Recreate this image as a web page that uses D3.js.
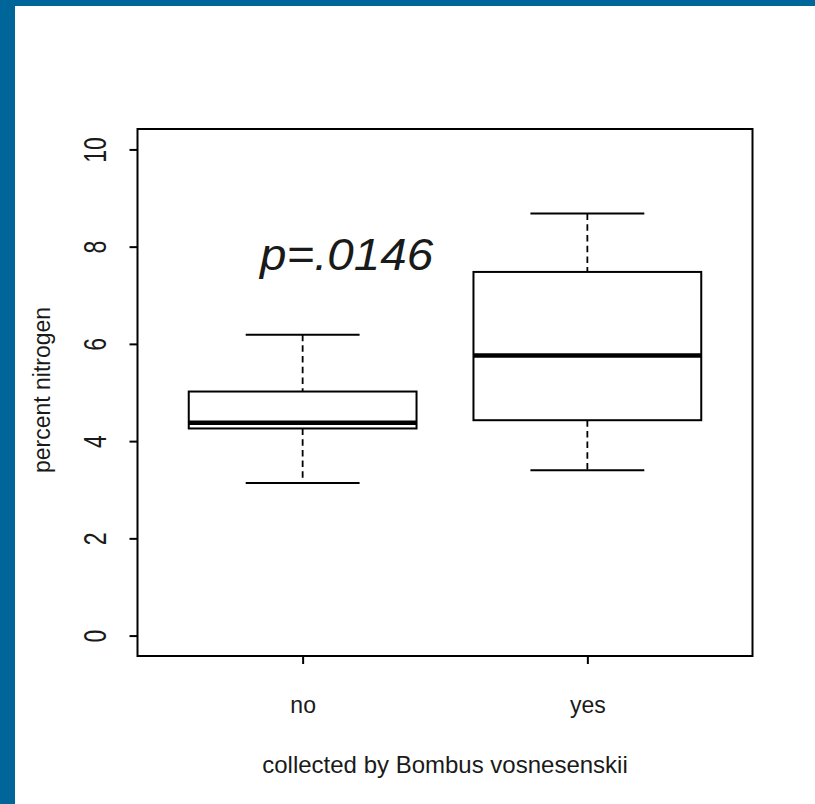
<!DOCTYPE html>
<html>
<head>
<meta charset="utf-8">
<script src="https://cdn.jsdelivr.net/npm/d3@7"></script>
<style>
  html, body { margin: 0; padding: 0; background: #fff; }
  svg { display: block; }
  text { font-family: "Liberation Sans", Arial, sans-serif; fill: #1a1a1a; }
</style>
</head>
<body>
<svg id="chart" width="815" height="804"></svg>
<script>
// ---- data ----
const categories = ["no", "yes"];
const whiskerLow  = [3.14, 3.40];
const q1          = [4.26, 4.43];
const medians     = [4.38, 5.76];
const q3          = [5.02, 7.48];
const whiskerHigh = [6.19, 8.68];
const yTicks = [0, 2, 4, 6, 8, 10];
const xTitle = "collected by Bombus vosnesenskii";
const yTitle = "percent nitrogen";
const annotation = "p=.0146";

const svg = d3.select("#chart");
const W = 815, H = 804;

// background + blue frame
svg.append("rect").attr("width", W).attr("height", H).attr("fill", "#fff");
svg.append("rect").attr("x", 0).attr("y", 0).attr("width", 15).attr("height", H).attr("fill", "#006699");
svg.append("rect").attr("x", 0).attr("y", 0).attr("width", W).attr("height", 6).attr("fill", "#006699");

const plot = { left: 137.5, right: 752.5, top: 129, bottom: 656 };

const x = d3.scaleLinear().domain([0.42, 2.58]).range([plot.left, plot.right]);
const y = d3.scaleLinear().domain([-0.42, 10.42]).range([plot.bottom, plot.top]);

const boxes = categories.map((c, i) => ({
  c, pos: i + 1,
  lo: whiskerLow[i], q1: q1[i], med: medians[i], q3: q3[i], hi: whiskerHigh[i]
}));

const g = svg.append("g");

boxes.forEach(b => {
  // whiskers (dashed)
  g.append("line").attr("x1", x(b.pos)).attr("x2", x(b.pos))
    .attr("y1", y(b.hi)).attr("y2", y(b.q3))
    .attr("stroke", "#000").attr("stroke-width", 1.8).attr("stroke-dasharray", "6.5,4.2");
  g.append("line").attr("x1", x(b.pos)).attr("x2", x(b.pos))
    .attr("y1", y(b.q1)).attr("y2", y(b.lo))
    .attr("stroke", "#000").attr("stroke-width", 1.8).attr("stroke-dasharray", "6.5,4.2");
  // caps
  [b.lo, b.hi].forEach(v => {
    g.append("line").attr("x1", x(b.pos - 0.2)).attr("x2", x(b.pos + 0.2))
      .attr("y1", y(v)).attr("y2", y(v))
      .attr("stroke", "#000").attr("stroke-width", 2);
  });
  // box
  g.append("rect").attr("x", x(b.pos - 0.4)).attr("width", x(b.pos + 0.4) - x(b.pos - 0.4))
    .attr("y", y(b.q3)).attr("height", y(b.q1) - y(b.q3))
    .attr("fill", "#fff").attr("stroke", "#000").attr("stroke-width", 2);
  // median
  g.append("line").attr("x1", x(b.pos - 0.4)).attr("x2", x(b.pos + 0.4))
    .attr("y1", y(b.med)).attr("y2", y(b.med))
    .attr("stroke", "#000").attr("stroke-width", 4.5);
});

// plot frame
svg.append("rect").attr("x", plot.left).attr("y", plot.top)
  .attr("width", plot.right - plot.left).attr("height", plot.bottom - plot.top)
  .attr("fill", "none").attr("stroke", "#000").attr("stroke-width", 2);

// y axis
const yAxis = svg.append("g").attr("transform", `translate(${plot.left},0)`)
  .call(d3.axisLeft(y).tickValues(yTicks).tickSize(8).tickPadding(0).tickFormat(d3.format("d")));
yAxis.select(".domain").remove();
yAxis.selectAll(".tick line").attr("stroke", "#000").attr("stroke-width", 2);
yAxis.selectAll(".tick text")
  .attr("x", null).attr("dy", null)
  .attr("text-anchor", "middle")
  .attr("font-size", 23)
  .attr("transform", "translate(-32,0) scale(1.35,1) rotate(-90)")
  .attr("fill", "#1a1a1a");

// x axis
const xAxis = svg.append("g").attr("transform", `translate(0,${plot.bottom})`)
  .call(d3.axisBottom(x).tickValues([1, 2]).tickSize(8).tickPadding(0)
    .tickFormat((d) => categories[d - 1]));
xAxis.select(".domain").remove();
xAxis.selectAll(".tick line").attr("stroke", "#000").attr("stroke-width", 2);
xAxis.selectAll(".tick text")
  .attr("y", 57).attr("dy", null)
  .attr("font-size", 23)
  .attr("fill", "#1a1a1a");

// axis titles
svg.append("text").attr("x", 445).attr("y", 773)
  .attr("text-anchor", "middle").attr("font-size", 24).text(xTitle);
svg.append("text").attr("transform", "translate(50,390) rotate(-90)")
  .attr("text-anchor", "middle").attr("font-size", 23).text(yTitle);

// annotation
svg.append("text").attr("transform", "translate(260,270) scale(1.08,1)")
  .attr("font-size", 44).attr("font-style", "italic").attr("fill", "#222")
  .text(annotation);
</script>
</body>
</html>
